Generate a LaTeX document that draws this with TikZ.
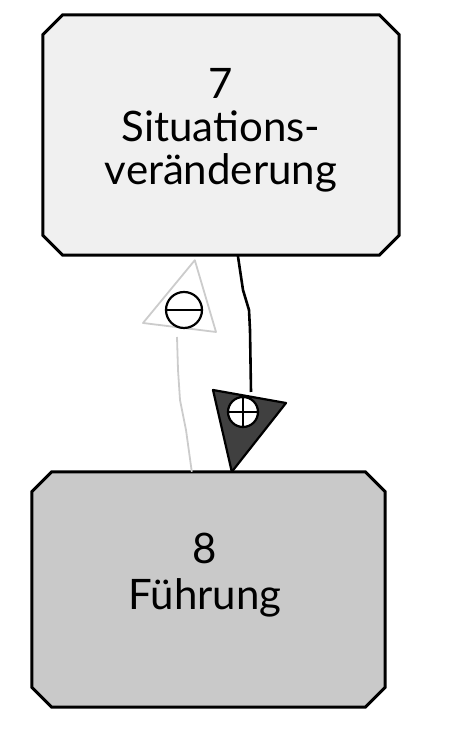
\documentclass[tikz,border=0pt]{standalone}
\usepackage{fontspec}
\setmainfont{Lato}
\usetikzlibrary{backgrounds,calc}
\begin{document}
\begin{tikzpicture}[x=1pt,y=1pt,
  boxtext/.style={align=center, inner sep=0pt, font=\fontsize{42}{43}\selectfont},
  boxline/.style={draw=black, line width=3pt, line join=miter},
  plusline/.style={draw=black, line width=2.6pt},
  minusline/.style={draw=gray!40, line width=1.8pt},
]
\useasboundingbox (0,0) rectangle (449,730);
\node[boxtext, minimum width=356, minimum height=240] (s7) at (221,595) {};
\node[boxtext, anchor=base] (t7) at (221,545) {7\\Situations-\\veränderung};
\node[boxtext, minimum width=353, minimum height=235] (s8) at (208.5,140.5) {};
\node[boxtext, anchor=base, font=\fontsize{42}{46}\selectfont] (t8) at (205,120) {8\\Führung};
\begin{pgfonlayer}{background}
  \foreach \n/\c in {s7/gray!12, s8/gray!42}{
    \draw[boxline, fill=\c]
      ([xshift=20]\n.north west) -- ([xshift=-20]\n.north east)
      -- ([yshift=-20]\n.north east) -- ([yshift=20]\n.south east)
      -- ([xshift=-20]\n.south east) -- ([xshift=20]\n.south west)
      -- ([yshift=20]\n.south west) -- ([yshift=-20]\n.north west) -- cycle;
  }
\end{pgfonlayer}
% positive influence 7 -> 8
\coordinate (pstart) at ($(s7.south west)+(195,0)$);
\coordinate (phead) at (251,338);
\coordinate (ptip) at ($(s8.north west)+(200,0)$);
\draw[plusline] (pstart) -- (240,460) -- (243,440) -- (249,420) -- (250,400) -- (phead);
\draw[black, line width=2.2pt, line join=round, fill=black!75] (213,340) -- (286,327) -- (ptip) -- cycle;
\node[circle, draw=black, line width=2.2pt, fill=white, minimum size=30, inner sep=0pt] (plus) at (243,318) {};
\draw[black, line width=2.8pt] (plus.north) -- (plus.south) (plus.west) -- (plus.east);
% negative influence 8 -> 7
\coordinate (nstart) at ($(s8.north west)+(160,0)$);
\coordinate (nhead) at (177,393);
\coordinate (ntip) at ($(s7.south west)+(152,-5)$);
\draw[minusline] (nstart) -- (186,300) -- (180,330) -- (178,360) -- (nhead);
\draw[gray!40, line width=1.8pt, line join=round, fill=white] (143,407) -- (216,398) -- (ntip) -- cycle;
\node[circle, draw=black, line width=2.2pt, fill=white, minimum size=36, inner sep=0pt] (minus) at (184,420) {};
\draw[black, line width=2.8pt] (minus.west) -- (minus.east);
\end{tikzpicture}
\end{document}
